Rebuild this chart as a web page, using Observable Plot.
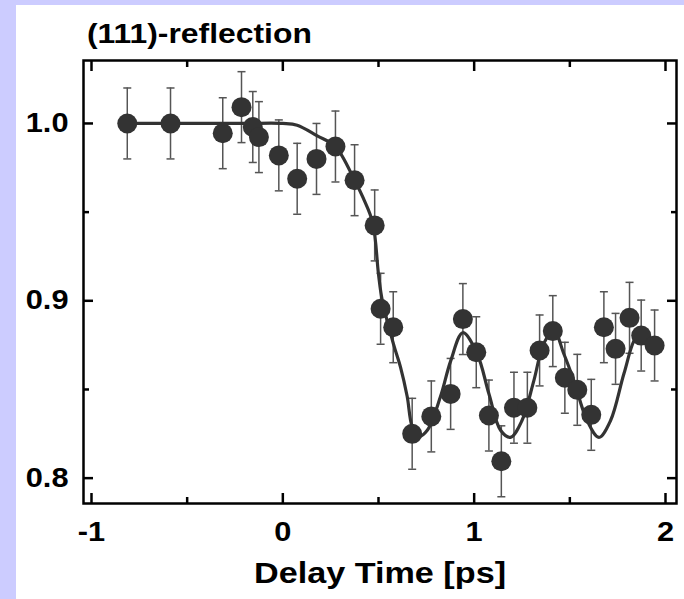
<!DOCTYPE html>
<html>
<head>
<meta charset="utf-8">
<script src="https://cdn.jsdelivr.net/npm/d3@7"></script>
<script src="https://cdn.jsdelivr.net/npm/@observablehq/plot@0.6"></script>
<style>
  html, body { margin: 0; padding: 0; }
  body { width: 684px; height: 599px; background: #ccccff; position: relative; overflow: hidden; }
  #panel { position: absolute; left: 16px; top: 5px; width: 668px; height: 594px; background: white; }
  #title { position: absolute; left: 71px; top: 16px; font: bold 27px 'Liberation Sans', Arial, sans-serif; line-height: 27px; color: black; white-space: nowrap; transform: scaleX(1.18); transform-origin: left center; }
  #chart { position: absolute; left: 0; top: 47px; }
</style>
</head>
<body>
<div id="panel">
  <div id="title">(111)-reflection</div>
  <div id="chart"></div>
</div>
<script>
// Measured points: delay time (ps), normalized intensity, error
const delay = [-0.813, -0.587, -0.314, -0.216, -0.157, -0.125, -0.021, 0.075, 0.176, 0.275, 0.375,
  0.480, 0.511, 0.577, 0.676, 0.776, 0.877, 0.941, 1.011, 1.077, 1.142, 1.208, 1.278, 1.342, 1.411,
  1.474, 1.539, 1.612, 1.678, 1.739, 1.812, 1.873, 1.943];
const intensity = [1.000, 1.000, 0.9945, 1.0092, 0.998, 0.9923, 0.982, 0.9688, 0.980, 0.987, 0.968,
  0.9425, 0.8955, 0.8851, 0.825, 0.8348, 0.8475, 0.8897, 0.871, 0.8353, 0.8095, 0.8397, 0.8397, 0.872, 0.8829,
  0.8566, 0.8498, 0.8357, 0.8851, 0.8729, 0.8904, 0.8804, 0.8748];
const errorBar = [0.02, 0.02, 0.02, 0.02, 0.02, 0.02, 0.02, 0.02, 0.02, 0.02, 0.02,
  0.02, 0.02, 0.02, 0.02, 0.02, 0.02, 0.02, 0.02, 0.02, 0.02, 0.02, 0.02, 0.02, 0.02,
  0.02, 0.02, 0.02, 0.02, 0.02, 0.02, 0.02, 0.02];

// Fit curve
const fitX = [-0.813, -0.5, -0.2, 0.0, 0.075, 0.18, 0.275, 0.375, 0.42, 0.47, 0.50, 0.52, 0.58, 0.615, 0.65,
  0.676, 0.71, 0.755, 0.824, 0.877, 0.941, 1.016, 1.077, 1.138, 1.19, 1.25, 1.312, 1.364, 1.417,
  1.469, 1.521, 1.59, 1.652, 1.713, 1.783, 1.844, 1.88];
const fitY = [1.000, 1.000, 1.000, 1.000, 0.999, 0.993, 0.987, 0.968, 0.958, 0.944, 0.915, 0.900, 0.875, 0.8626, 0.846,
  0.829, 0.8235, 0.827, 0.846, 0.866, 0.882, 0.870, 0.8476, 0.827, 0.823, 0.8325, 0.855, 0.876, 0.883,
  0.870, 0.855, 0.8325, 0.823, 0.8325, 0.859, 0.879, 0.881];

const xMajor = [-1, 0, 1, 2];
const xMajorLabels = ["-1", "0", "1", "2"];
const xMinor = [-0.5, 0.5, 1.5];
const yMajor = [0.8, 0.9, 1.0];
const yMajorLabels = ["0.8", "0.9", "1.0"];
const yMinor = [0.85, 0.95];
const xLabel = "Delay Time [ps]";

const points = delay.map((t, i) => ({t, v: intensity[i], e: errorBar[i]}));
const fit = fitX.map((t, i) => ({t, v: fitY[i]}));

const capSymbol = {
  draw(context, size) {
    const w = Math.sqrt(size / Math.PI);
    context.moveTo(-w, 0);
    context.lineTo(w, 0);
  }
};

const tickStyle = {stroke: "black", strokeWidth: 2.5, tickFormat: () => "", label: null};

const chart = Plot.plot({
  width: 668,
  height: 547,
  marginLeft: 67,
  marginRight: 8,
  marginTop: 8,
  marginBottom: 96,
  x: {domain: [-1.0418, 2.0575]},
  y: {domain: [0.7857, 1.0355]},
  style: {fontFamily: "'Liberation Sans', Arial, sans-serif", fontWeight: "bold", fontSize: "27px", background: "white", color: "black"},
  marks: [
    Plot.ruleX(points, {x: "t", y1: d => d.v - d.e, y2: d => d.v + d.e, stroke: "#555", strokeWidth: 1.5}),
    Plot.dot(points, {x: "t", y: d => d.v - d.e, symbol: capSymbol, r: 4, stroke: "#555", strokeWidth: 1.5}),
    Plot.dot(points, {x: "t", y: d => d.v + d.e, symbol: capSymbol, r: 4, stroke: "#555", strokeWidth: 1.5}),
    Plot.line(fit, {x: "t", y: "v", curve: "catmull-rom", stroke: "#333", strokeWidth: 3.2}),
    Plot.dot(points, {x: "t", y: "v", r: 10, fill: "#333", stroke: "none"}),
    Plot.frame({stroke: "black", strokeWidth: 2.5}),
    Plot.axisX(xMajor, {anchor: "bottom", tickSize: -10, ...tickStyle}),
    Plot.axisX(xMajor, {anchor: "top", tickSize: -10, ...tickStyle}),
    Plot.axisX(xMinor, {anchor: "bottom", tickSize: -6, ...tickStyle}),
    Plot.axisX(xMinor, {anchor: "top", tickSize: -6, ...tickStyle}),
    Plot.axisY(yMajor, {anchor: "left", tickSize: -10, ...tickStyle}),
    Plot.axisY(yMajor, {anchor: "right", tickSize: -10, ...tickStyle}),
    Plot.axisY(yMinor, {anchor: "left", tickSize: -6, ...tickStyle}),
    Plot.axisY(yMinor, {anchor: "right", tickSize: -6, ...tickStyle}),
    Plot.axisX(xMajor, {anchor: "bottom", tickSize: 0, tickPadding: 18, tickFormat: d => xMajorLabels[xMajor.indexOf(d)], label: null, fill: "black"}),
    Plot.axisY(yMajor, {anchor: "left", tickSize: 0, tickPadding: 15, tickFormat: d => yMajorLabels[yMajor.indexOf(d)], label: null, fill: "black"}),
    Plot.text([xLabel], {frameAnchor: "bottom", text: d => d, dy: 79, fontSize: 30, fontWeight: "bold", fill: "black"})
  ]
});
document.getElementById("chart").appendChild(chart);

// Widen the glyphs horizontally around each text's own anchor point
chart.querySelectorAll("text").forEach(t => {
  if (!t.textContent) return;
  const b = t.getBBox();
  const anchor = getComputedStyle(t).textAnchor;
  const cx = anchor === "end" ? b.x + b.width : anchor === "start" ? b.x : b.x + b.width / 2;
  const tr = t.getAttribute("transform") || "";
  t.setAttribute("transform", `${tr} translate(${cx},0) scale(1.14,1) translate(${-cx},0)`);
});
</script>
</body>
</html>
